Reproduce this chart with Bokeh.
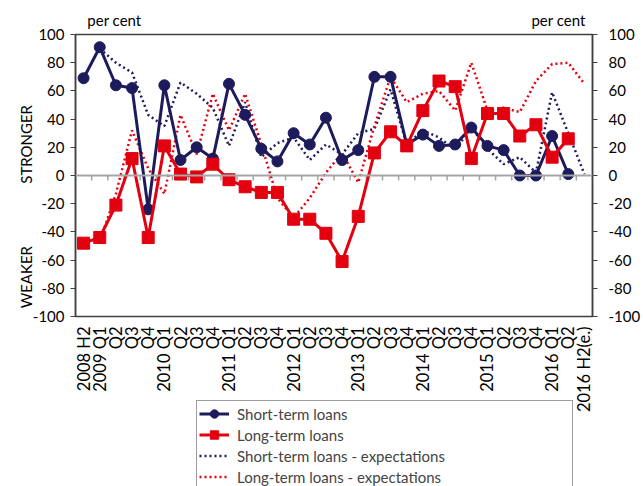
import math
from bokeh.plotting import figure
from bokeh.models import (Range1d, LinearAxis, FixedTicker, Legend, LegendItem,
                          Span, ColumnDataSource)
from bokeh.core.properties import value
from bokeh.layouts import column
from bokeh.embed import file_html
from bokeh.resources import INLINE

# ---------------- data ----------------
tick_labels = ["2008 H2",
               "2009 Q1", "Q2", "Q3", "Q4",
               "2010 Q1", "Q2", "Q3", "Q4",
               "2011 Q1", "Q2", "Q3", "Q4",
               "2012 Q1", "Q2", "Q3", "Q4",
               "2013 Q1", "Q2", "Q3", "Q4",
               "2014 Q1", "Q2", "Q3", "Q4",
               "2015 Q1", "Q2", "Q3", "Q4",
               "2016 Q1", "Q2",
               "2016 H2(e.)"]

short_term = [69, 91, 64, 62, -24, 64, 11, 20, 12, 65, 43, 19, 10, 30, 22, 41,
              11, 18, 70, 70, 22, 29, 21, 22, 34, 21, 18, 0, 0, 28, 1, None]
long_term = [-48, -44, -21, 12, -44, 21, 1, -1, 8, -3, -8, -12, -12, -31, -31, -41,
             -61, -29, 16, 31, 21, 46, 67, 63, 12, 44, 44, 28, 36, 13, 26, None]
short_exp = [None, 90, 80, 73, 43, 35, 66, 58, 48, 21, 52, 13, 23, 27, 11, 22,
             15, 30, 33, 61, 22, 32, 27, 18, 34, 19, 8, 13, 2, 59, 30, 1]
long_exp = [None, -47, -13, 32, 5, -13, 43, 15, 58, 32, 58, 22, -16, -30, -16, 2,
            16, -5, 35, 70, 52, 58, 60, 46, 80, 46, 48, 45, 67, 79, 80, 65]

y_ticks = [-100, -80, -60, -40, -20, 0, 20, 40, 60, 80, 100]
side_labels = {50: "STRONGER", -50: "WEAKER"}
unit_labels = {39: "per cent", 484: "per cent"}   # positions across the plot width (px scale)

series_names = ["Short-term loans", "Long-term loans",
                "Short-term loans - expectations", "Long-term loans - expectations"]

# ---------------- styling ----------------
NAVY = "#1e1b5c"
RED = "#e3000f"
FONT = "Lato"
FS = "15px"
AXIS_COL = "#404040"
W = 643
FRAME_W = 518
FRAME_H = 282
TOP_PAD = 34
BOT_PAD = 9
TOP_H = TOP_PAD + FRAME_H + BOT_PAD   # chart figure height
BOT_H = 486 - TOP_H                   # strip holding x labels + legend

idx = list(range(len(tick_labels)))


def nan(v):
    return [float("nan") if x is None else x for x in v]


src = ColumnDataSource(dict(x=idx, st=nan(short_term), lt=nan(long_term),
                            se=nan(short_exp), le=nan(long_exp)))

x_range = Range1d(-0.5, len(idx) - 0.5)

p = figure(width=W, height=TOP_H, output_backend="svg", toolbar_location=None,
           x_range=x_range, y_range=Range1d(-100, 100),
           min_border_left=75, min_border_right=W - 75 - FRAME_W, min_border_top=TOP_PAD,
           min_border_bottom=BOT_PAD, x_axis_type=None, y_axis_type=None)
p.outline_line_color = AXIS_COL
p.outline_line_width = 1.5
p.border_fill_color = "white"
p.extra_x_ranges = {"px": Range1d(0, FRAME_W)}

# "per cent" labels above the plot
ua = LinearAxis(x_range_name="px", ticker=FixedTicker(ticks=list(unit_labels)),
                major_label_overrides=unit_labels)
ua.axis_line_color = None
ua.major_tick_line_color = None
ua.minor_tick_line_color = None
ua.major_label_standoff = 0
ua.major_label_text_font = FONT
ua.major_label_text_font_size = FS
ua.major_label_text_color = "black"
p.add_layout(ua, "above")

for side in ("left", "right"):
    ya = LinearAxis(ticker=FixedTicker(ticks=y_ticks),
                    major_label_overrides={v: str(v) for v in y_ticks})
    ya.axis_line_color = AXIS_COL
    ya.axis_line_width = 1.5
    ya.major_tick_line_color = AXIS_COL
    ya.major_tick_out = 5
    ya.major_tick_in = 0
    ya.minor_tick_line_color = None
    ya.major_label_standoff = 6 if side == "left" else 11
    ya.major_label_text_font = FONT
    ya.major_label_text_font_size = FS
    ya.major_label_text_color = "black"
    p.add_layout(ya, side)

# STRONGER / WEAKER
sa = LinearAxis(ticker=FixedTicker(ticks=list(side_labels)),
                major_label_overrides=side_labels)
sa.major_label_orientation = math.pi / 2
sa.axis_line_color = None
sa.major_tick_line_color = None
sa.minor_tick_line_color = None
sa.major_label_standoff = -2
sa.major_label_text_font = FONT
sa.major_label_text_font_size = FS
sa.major_label_text_color = "black"
p.add_layout(sa, "left")

# grid
p.ygrid.ticker = FixedTicker(ticks=[v for v in y_ticks if v not in (0, 100, -100)])
p.ygrid.grid_line_color = "#d0d0d0"
p.ygrid.grid_line_dash = "1 1"
p.ygrid.grid_line_width = 1
p.xgrid.grid_line_color = None

# zero line with category tick marks
p.add_layout(Span(location=0, dimension="width", line_color="#a6a6a6", line_width=2))
bounds = [i - 0.5 for i in range(len(idx) + 1)]
p.segment(x0=bounds, y0=[0] * len(bounds), x1=bounds, y1=[-3.5] * len(bounds),
          line_color="#a6a6a6", line_width=1.5)

# series
line_se = dict(line_color=NAVY, line_width=2.5, line_dash="2 3")
line_le = dict(line_color=RED, line_width=2.5, line_dash="2 3")
line_st = dict(line_color=NAVY, line_width=3)
line_lt = dict(line_color=RED, line_width=3)
mark_st = dict(marker="circle", size=11, fill_color=NAVY, line_color=NAVY)
mark_lt = dict(marker="square", size=12, fill_color=RED, line_color=RED)

p.line("x", "se", source=src, **line_se)
p.line("x", "le", source=src, **line_le)
p.line("x", "st", source=src, **line_st)
p.scatter("x", "st", source=src, **mark_st)
p.line("x", "lt", source=src, **line_lt)
p.scatter("x", "lt", source=src, **mark_lt)

# ---------------- strip below: category labels + legend ----------------
q = figure(width=W, height=BOT_H, output_backend="svg", toolbar_location=None,
           x_range=x_range, y_range=Range1d(-BOT_H, 0),
           min_border=0, min_border_left=75, min_border_right=W - 75 - FRAME_W,
           x_axis_type=None, y_axis_type=None)
q.outline_line_color = None
q.xgrid.grid_line_color = None
q.ygrid.grid_line_color = None
q.extra_y_ranges = {"off": Range1d(1000, 1001)}

lab_src = ColumnDataSource(dict(x=idx, y=[-1] * len(idx), t=tick_labels))
q.text("x", "y", text="t", source=lab_src, angle=math.pi / 2,
       text_align="right", text_baseline="middle", text_font=value(FONT),
       text_font_size="16.5px", text_color="black")

# legend renderers (data lies outside the visible range of this strip)
l_st = q.line("x", "st", source=src, y_range_name="off", **line_st)
m_st = q.scatter("x", "st", source=src, y_range_name="off", **mark_st)
l_lt = q.line("x", "lt", source=src, y_range_name="off", **line_lt)
m_lt = q.scatter("x", "lt", source=src, y_range_name="off", **mark_lt)
l_se = q.line("x", "se", source=src, y_range_name="off", **line_se)
l_le = q.line("x", "le", source=src, y_range_name="off", **line_le)

legend = Legend(items=[
    LegendItem(label=series_names[0], renderers=[l_st, m_st]),
    LegendItem(label=series_names[1], renderers=[l_lt, m_lt]),
    LegendItem(label=series_names[2], renderers=[l_se]),
    LegendItem(label=series_names[3], renderers=[l_le]),
], location=(121, -4), orientation="vertical")
legend.label_text_font = FONT
legend.label_text_font_size = FS
legend.label_height = 21
legend.glyph_height = 21
legend.glyph_width = 30
legend.label_standoff = 8
legend.label_width = 333
legend.spacing = 0
legend.padding = 2
legend.margin = 0
legend.border_line_color = AXIS_COL
legend.border_line_width = 1
legend.background_fill_alpha = 1
q.add_layout(legend, "center")

layout = column(p, q, spacing=0)
open("out.html", "w").write(file_html(layout, INLINE))
